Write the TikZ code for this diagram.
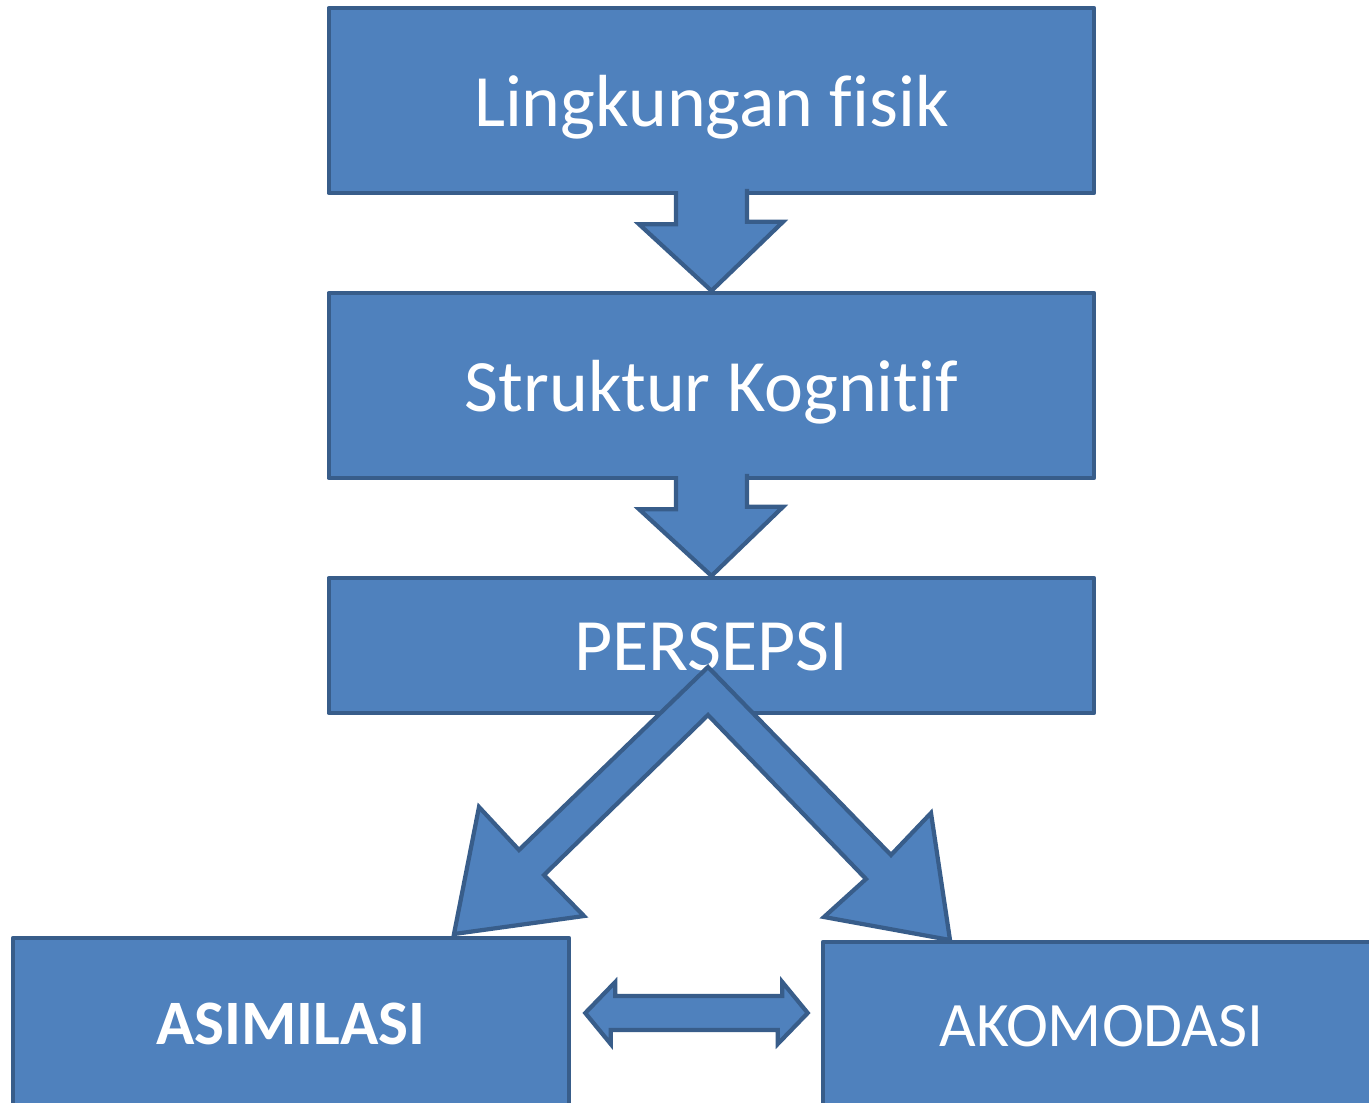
\documentclass[tikz,border=0pt]{standalone}
\usepackage{fontspec}
\setmainfont{Carlito}[Ligatures=NoCommon]
\usetikzlibrary{calc}
\definecolor{boxblue}{HTML}{4F81BD}
\definecolor{boxline}{HTML}{385D8A}
\tikzset{
  block/.style={draw=boxline, fill=boxblue, line width=1.2pt, text=white, inner sep=0pt, line join=round},
  bigarrow/.style={draw=boxline, fill=boxblue, line width=1.2pt, line join=miter},
  bigtext/.style={font=\fontsize{21}{26}\selectfont, text height=15pt, text depth=0pt},
  smalltext/.style={font=\fontsize{18}{22}\selectfont},
}
\begin{document}
\begin{tikzpicture}[x=0.01cm,y=-0.01cm]
  \useasboundingbox (0,0) rectangle (1369,1103);
  \clip (0,0) rectangle (1369,1103);
  \begin{scope}[every node/.style={block}]
    \node[bigtext, minimum width=7.65cm, minimum height=1.85cm] (lf) at (711.5,100.5) {Lingkungan fisik};
    \node[bigtext, minimum width=7.65cm, minimum height=1.85cm] (sk) at (711.5,385.5) {Struktur Kognitif};
    \node[bigtext, text height=14.2pt, minimum width=7.65cm, minimum height=1.35cm] (pers) at (711.5,645.5) {PERSEPSI};
    \node[smalltext, minimum width=5.56cm, minimum height=1.72cm] (asim) at (291,1024) {\textbf{ASIMILASI}};
    \node[smalltext, minimum width=5.57cm, minimum height=1.68cm] (akom) at (1101.5,1026) {AKOMODASI};
  \end{scope}
  % block arrows down
  \filldraw[bigarrow] ([shift={(-35.5,-4)}]lf.south) -- ++(0,33) -- ++(-37,0)
    -- (sk.north) -- ++(71.5,-69) -- ++(-36,0) -- ++(0,-33);
  \filldraw[bigarrow] ([shift={(-35.5,-4)}]sk.south) -- ++(0,33) -- ++(-37,0)
    -- (pers.north) -- ++(71.5,-69) -- ++(-36,0) -- ++(0,-33);
  % split arrow
  \filldraw[bigarrow] (708,667) -- (519,850) -- (479,807) -- (454,934) -- (584,916)
    -- (544,875) -- (708,715) -- (866,879) -- (824,917) -- (950,940)
    -- (931,813) -- (891,855) -- cycle;
  % double arrow
  \coordinate (dl) at ([shift={(14,-11)}]asim.east);
  \coordinate (dr) at ([shift={(-13,-13)}]akom.west);
  \filldraw[bigarrow] (dl) -- ++(30,-31) -- ++(0,14) -- ++(167,0) -- ++(0,-14)
    -- (dr) -- ++(-30,31) -- ++(0,-14) -- ++(-167,0) -- ++(0,14) -- cycle;
\end{tikzpicture}
\end{document}
